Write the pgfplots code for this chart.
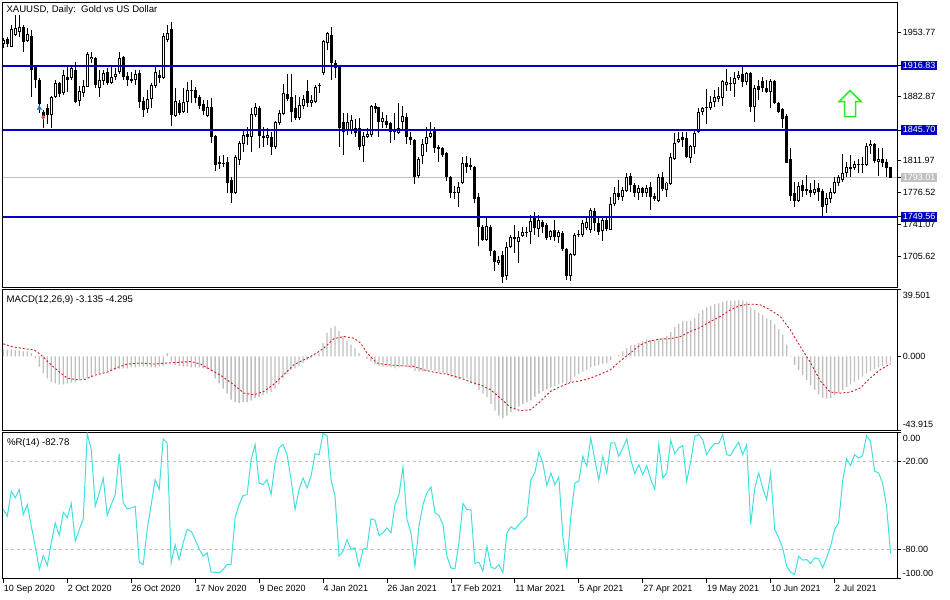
\documentclass[border=0pt]{standalone}
\usepackage{pgfplots}
\pgfplotsset{compat=1.18}
\usepackage{pgfplotstable}
\usepackage{fontspec}
\setmainfont{Liberation Sans}
\definecolor{lvl}{RGB}{0,0,190}
\definecolor{silv}{RGB}{192,192,192}
\definecolor{wpr}{RGB}{64,224,224}
\definecolor{sig}{RGB}{210,30,30}
\definecolor{grn}{RGB}{40,235,40}

\pgfplotstableread{
i o h l c
0 1941.0 1948.0 1936.0 1945.0
1 1946.4 1948.6 1937.5 1940.8
2 1937.5 1961.9 1937.0 1957.4
3 1950.8 1973.0 1949.7 1958.5
4 1954.0 1973.0 1948.6 1959.6
5 1959.6 1961.9 1932.0 1943.0
6 1944.0 1958.5 1943.0 1951.9
7 1949.7 1956.3 1882.2 1912.1
8 1915.4 1917.6 1892.2 1901.0
9 1901.0 1903.2 1864.5 1874.5
10 1865.6 1867.8 1847.9 1861.2
11 1870.0 1874.5 1852.4 1862.3
12 1862.3 1883.3 1847.9 1882.2
13 1882.2 1901.0 1881.1 1897.7
14 1897.7 1898.8 1882.2 1885.5
15 1886.6 1912.1 1884.4 1906.6
16 1904.4 1917.6 1887.8 1901.0
17 1903.3 1917.6 1901.0 1914.3
18 1912.1 1920.9 1875.6 1876.7
19 1877.8 1894.4 1872.3 1888.9
20 1886.6 1901.0 1882.2 1894.4
21 1893.3 1932.0 1893.0 1929.8
22 1923.7 1932.0 1919.8 1926.5
23 1925.4 1926.5 1892.2 1895.5
24 1892.2 1912.1 1882.2 1901.0
25 1900.0 1912.1 1895.5 1908.8
26 1909.9 1914.3 1895.5 1897.7
27 1897.7 1915.4 1897.0 1904.4
28 1904.4 1914.3 1901.0 1907.7
29 1909.9 1932.0 1907.7 1925.4
30 1926.5 1927.6 1901.0 1904.4
31 1905.5 1909.9 1894.4 1901.0
32 1902.1 1909.9 1897.7 1900.0
33 1901.0 1912.1 1895.5 1907.7
34 1908.8 1912.1 1870.1 1876.7
35 1877.8 1882.2 1860.1 1867.8
36 1869.0 1890.0 1864.5 1880.0
37 1880.0 1897.7 1870.1 1895.5
38 1894.4 1915.4 1892.2 1909.9
39 1906.6 1912.0 1898.0 1903.3
40 1903.3 1953.0 1902.0 1949.7
41 1945.3 1961.9 1943.0 1953.0
42 1957.4 1965.2 1850.2 1862.3
43 1861.2 1892.2 1860.1 1877.8
44 1875.6 1878.9 1862.0 1864.5
45 1865.6 1892.2 1864.5 1876.7
46 1876.7 1898.8 1864.5 1890.0
47 1889.5 1901.0 1875.6 1888.6
48 1890.0 1893.3 1875.6 1881.1
49 1882.2 1884.4 1869.0 1872.3
50 1874.5 1878.9 1862.3 1866.7
51 1861.2 1878.9 1860.0 1871.2
52 1871.2 1881.1 1831.0 1838.0
53 1839.0 1840.2 1799.7 1807.0
54 1808.0 1816.3 1803.0 1810.0
55 1809.0 1818.0 1805.0 1807.8
56 1810.0 1816.0 1776.0 1787.0
57 1790.4 1794.0 1764.6 1776.0
58 1776.0 1818.0 1775.0 1815.8
59 1812.5 1833.5 1807.0 1831.3
60 1830.2 1845.7 1821.4 1840.2
61 1841.0 1849.0 1829.0 1838.0
62 1838.0 1869.6 1821.4 1863.4
63 1862.3 1875.6 1860.0 1871.2
64 1870.0 1871.7 1825.4 1839.0
65 1839.0 1849.0 1827.0 1836.9
66 1837.0 1847.6 1829.0 1840.2
67 1838.0 1843.9 1818.0 1826.9
68 1826.9 1856.0 1825.0 1854.6
69 1853.5 1867.8 1851.3 1864.5
70 1863.4 1896.6 1862.3 1886.6
71 1885.5 1907.7 1877.8 1880.0
72 1882.2 1907.7 1854.0 1865.6
73 1870.0 1884.4 1856.8 1859.0
74 1859.0 1882.0 1856.8 1873.4
75 1872.3 1884.4 1869.0 1880.0
76 1888.8 1901.0 1871.0 1876.0
77 1875.6 1884.4 1871.0 1878.9
78 1876.7 1895.5 1875.6 1893.3
79 1894.0 1897.7 1886.6 1895.5
80 1909.0 1945.5 1906.6 1944.5
81 1941.9 1954.5 1934.0 1953.0
82 1950.8 1959.6 1901.0 1919.8
83 1919.8 1923.0 1903.0 1914.3
84 1916.5 1917.6 1827.0 1847.9
85 1854.6 1864.5 1818.0 1843.5
86 1845.0 1864.5 1840.0 1854.6
87 1845.7 1862.0 1841.0 1856.8
88 1848.0 1858.0 1838.0 1842.6
89 1847.6 1858.6 1823.6 1827.3
90 1828.0 1843.9 1810.7 1839.1
91 1838.3 1847.6 1836.5 1841.3
92 1840.2 1873.4 1838.3 1872.3
93 1872.3 1876.0 1864.2 1868.6
94 1870.8 1871.5 1837.6 1854.9
95 1855.0 1866.0 1847.6 1858.6
96 1856.0 1862.3 1847.6 1851.3
97 1853.1 1854.9 1831.7 1843.9
98 1844.5 1864.2 1834.6 1843.5
99 1842.8 1876.0 1841.3 1848.3
100 1854.9 1872.3 1845.0 1861.2
101 1860.5 1864.2 1830.3 1837.6
102 1838.3 1843.9 1829.2 1834.7
103 1834.7 1835.4 1786.0 1793.4
104 1794.8 1816.2 1792.3 1813.3
105 1817.3 1835.4 1808.1 1830.3
106 1830.3 1849.4 1821.8 1838.3
107 1838.3 1854.9 1836.5 1842.8
108 1845.7 1849.4 1819.9 1825.5
109 1826.6 1829.2 1810.7 1824.4
110 1825.5 1827.3 1816.2 1818.1
111 1819.9 1821.8 1789.7 1794.1
112 1794.1 1794.8 1770.1 1776.4
113 1777.5 1783.1 1769.0 1775.7
114 1776.4 1788.6 1760.9 1783.0
115 1786.8 1816.2 1786.0 1808.9
116 1809.6 1817.0 1797.8 1805.2
117 1807.0 1814.4 1801.5 1805.2
118 1805.2 1805.9 1764.6 1769.1
119 1772.0 1776.4 1716.8 1738.8
120 1738.8 1740.7 1722.2 1724.1
121 1724.1 1748.0 1723.3 1739.6
122 1738.8 1740.7 1705.6 1712.2
123 1712.2 1713.0 1689.0 1699.0
124 1698.3 1706.4 1696.4 1701.9
125 1707.5 1711.2 1676.8 1682.8
126 1684.2 1721.2 1679.8 1716.0
127 1716.0 1729.6 1714.7 1727.0
128 1727.0 1740.7 1709.5 1724.8
129 1721.1 1733.3 1698.3 1727.7
130 1728.5 1738.8 1727.0 1732.2
131 1732.2 1738.8 1727.0 1733.2
132 1732.2 1751.7 1719.6 1745.1
133 1750.6 1755.4 1729.6 1737.0
134 1735.9 1751.7 1727.0 1746.2
135 1744.3 1746.2 1731.4 1738.8
136 1740.7 1742.5 1724.1 1725.9
137 1727.0 1735.1 1724.1 1733.3
138 1735.1 1746.2 1722.2 1727.0
139 1727.7 1735.1 1720.3 1732.6
140 1731.4 1733.3 1712.2 1713.8
141 1713.8 1714.9 1679.1 1684.2
142 1684.2 1709.3 1678.0 1708.6
143 1707.5 1731.4 1706.4 1729.6
144 1729.6 1734.4 1727.0 1730.5
145 1729.6 1746.2 1727.0 1743.2
146 1737.0 1748.0 1735.1 1744.3
147 1735.1 1759.1 1731.4 1757.3
148 1756.5 1759.1 1733.3 1742.5
149 1743.2 1748.0 1729.6 1732.2
150 1733.3 1749.9 1723.3 1746.2
151 1746.2 1748.0 1733.3 1735.9
152 1735.1 1771.3 1734.4 1763.9
153 1763.9 1783.0 1761.0 1776.4
154 1776.4 1790.4 1768.3 1771.3
155 1771.3 1783.0 1766.5 1779.4
156 1778.6 1797.8 1777.5 1794.1
157 1794.8 1797.8 1777.5 1784.9
158 1784.9 1786.8 1772.0 1776.4
159 1775.7 1784.9 1768.3 1781.2
160 1781.2 1783.0 1772.0 1776.4
161 1776.4 1784.9 1771.3 1781.2
162 1782.3 1788.6 1757.3 1772.0
163 1772.7 1775.7 1766.5 1769.1
164 1766.5 1797.1 1765.4 1793.4
165 1793.4 1798.6 1778.6 1780.1
166 1779.4 1788.6 1771.3 1787.5
167 1786.0 1819.9 1784.9 1815.5
168 1813.3 1842.0 1812.5 1831.0
169 1832.8 1843.9 1831.0 1835.4
170 1837.6 1843.9 1827.3 1835.0
171 1836.5 1843.9 1814.4 1816.2
172 1814.4 1829.2 1808.9 1828.0
173 1827.3 1845.0 1819.2 1842.8
174 1843.9 1869.7 1842.8 1866.0
175 1866.0 1871.5 1862.3 1869.7
176 1870.4 1890.7 1852.4 1871.0
177 1869.7 1882.9 1868.0 1877.0
178 1877.0 1890.0 1870.8 1881.9
179 1879.7 1893.6 1877.0 1883.3
180 1880.8 1901.0 1872.3 1900.3
181 1895.5 1912.8 1889.2 1899.2
182 1896.6 1904.7 1889.2 1897.4
183 1896.6 1910.3 1882.6 1902.9
184 1902.9 1911.3 1901.0 1906.6
185 1907.7 1916.5 1892.9 1899.2
186 1899.2 1910.3 1895.5 1909.1
187 1909.1 1910.3 1866.0 1870.8
188 1870.8 1895.5 1854.9 1891.8
189 1894.4 1901.0 1878.9 1890.0
190 1900.3 1904.0 1888.1 1891.8
191 1891.8 1901.0 1886.3 1888.1
192 1888.1 1901.7 1869.7 1900.3
193 1900.3 1901.0 1874.5 1876.0
194 1876.0 1877.0 1864.2 1866.0
195 1868.6 1869.7 1847.6 1857.6
196 1861.2 1863.4 1808.9 1809.6
197 1813.3 1825.5 1766.5 1772.7
198 1775.7 1788.6 1760.9 1766.5
199 1767.5 1788.6 1765.4 1783.8
200 1784.9 1790.4 1772.0 1778.6
201 1780.1 1796.0 1773.8 1778.6
202 1779.4 1786.8 1772.0 1775.7
203 1776.4 1790.4 1773.8 1780.1
204 1781.2 1786.8 1766.5 1777.5
205 1778.6 1780.1 1750.6 1760.9
206 1762.8 1775.7 1753.5 1770.2
207 1769.1 1781.2 1764.6 1777.5
208 1776.4 1793.4 1775.0 1788.6
209 1787.5 1796.0 1783.1 1793.4
210 1790.4 1819.2 1788.6 1798.5
211 1797.8 1810.7 1794.1 1804.4
212 1804.4 1818.1 1794.1 1802.3
213 1803.3 1811.8 1800.8 1808.1
214 1808.1 1813.3 1798.5 1806.7
215 1808.1 1815.5 1797.8 1806.7
216 1807.0 1831.0 1805.9 1828.0
217 1828.0 1834.6 1819.2 1830.3
218 1830.3 1831.7 1809.6 1811.8
219 1810.7 1825.5 1794.8 1813.3
220 1813.3 1825.5 1805.2 1809.6
221 1810.7 1813.3 1794.1 1803.3
222 1804.4 1805.2 1792.0 1793.0
}\candles

\pgfplotstableread{
i m
0 4
1 4
2 4
3 4
4 3.5
5 3
6 3
7 2
8 -1
9 -6
10 -10
11 -13
12 -15
13 -16
14 -16.5
15 -16.5
16 -16
17 -15.5
18 -15
19 -14
20 -13.5
21 -12.5
22 -11.5
23 -10.5
24 -10
25 -9.5
26 -9
27 -8.5
28 -8
29 -7.5
30 -7
31 -7
32 -6.5
33 -6.5
34 -6
35 -6
36 -6
37 -6.5
38 -6.5
39 -6
40 -5.5
41 2
42 -3
43 -5
44 -5.5
45 -6
46 -6
47 -6.5
48 -6.5
49 -6.5
50 -7
51 -7.5
52 -9
53 -13
54 -16
55 -19
56 -22
57 -25.5
58 -27
59 -27.5
60 -27
61 -27
62 -26
63 -24.5
64 -24
65 -23
66 -22
67 -21
68 -19
69 -16.5
70 -13
71 -10
72 -8
73 -7
74 -5.5
75 -4
76 -2
77 -1
78 0.5
79 2
80 8
81 14
82 17
83 18
84 15
85 12
86 9
87 7
88 5
89 2
90 0.3
91 -1.5
92 -3
93 -4.5
94 -5.5
95 -6
96 -6
97 -6.5
98 -7
99 -6.5
100 -6
101 -6.5
102 -7
103 -8.5
104 -9
105 -9
106 -8.5
107 -8
108 -8.5
109 -9
110 -9.5
111 -10.5
112 -12
113 -13
114 -13.5
115 -13
116 -13
117 -15
118 -17
119 -20
120 -22
121 -24
122 -28
123 -32
124 -35
125 -36.5
126 -35
127 -33
128 -31.5
129 -29.5
130 -28
131 -27
132 -26
133 -24
134 -22
135 -20.5
136 -19.5
137 -18.5
138 -17.5
139 -16.5
140 -16
141 -16.5
142 -15
143 -12
144 -10.5
145 -9
146 -8
147 -6.5
148 -5.5
149 -5
150 -4.5
151 -4
152 -2
153 0.3
154 1
155 3
156 5
157 6.5
158 7
159 8
160 9
161 10
162 10
163 9.5
164 10.5
165 11
166 12
167 14.5
168 17.5
169 19.5
170 21
171 21
172 21
173 22.5
174 25.5
175 27.5
176 29
177 30
178 31
179 31.5
180 32.5
181 33
182 33
183 33
184 33.5
185 33
186 32.5
187 29
188 27.5
189 26
190 24.5
191 22.5
192 21.5
193 19
194 16
195 13
196 7
197 0.3
198 -5
199 -8
200 -11
201 -14
202 -17
203 -20
204 -22.5
205 -24.5
206 -25
207 -24.5
208 -23
209 -21.5
210 -20
211 -18
212 -16.5
213 -15
214 -13.5
215 -12
216 -10
217 -8.5
218 -7.5
219 -6.5
220 -5.5
221 -4.5
222 -3.135
}\macd

\pgfplotstableread{
x s
0 7.5
1.9 5.9
4.4 4.9
7.7 3.9
9.4 1.0
11.9 -4.9
14.4 -9.9
16 -12.8
18.5 -13.8
20.2 -13.8
22.7 -11.2
26 -9.3
28.5 -6.5
31 -4.5
34.4 -3.9
37.7 -4.5
41 -3.9
44.4 -3.4
46.9 -3.0
49.4 -4.5
51.9 -7.9
54.4 -11.2
57.7 -16.8
60.2 -21.7
62.7 -22.7
65.2 -20.7
67.7 -16.4
70.2 -10.8
72.7 -4.9
75.2 -2.0
77.7 1.0
80.2 4.9
82.7 10.5
85.2 11.8
87.7 10.8
89.4 7.9
91 2.0
93.5 -3.9
96 -4.9
99.4 -5.5
102.7 -5.9
105.2 -7.9
107.7 -9.3
111 -10.5
114.4 -12.8
117 -15.2
119.4 -16.8
121.9 -19.7
124.4 -24.7
126.9 -30.2
129.4 -32.1
131.9 -31.6
134.4 -26.6
136.9 -20.7
139.4 -17.8
141.9 -15.4
144.4 -14.4
146.9 -12.8
149.4 -10.5
151.9 -7.9
154.4 -2.6
156.9 2.0
159.4 6.9
161.9 9.3
164.4 10.3
166.9 10.5
169.4 11.8
171.9 14.8
174.4 17.2
176.9 20.7
179.4 23.7
181.9 27.6
184.4 30.2
186.9 31.0
189.4 30.6
191.9 27.6
194.4 23.7
196.9 15.8
199.4 5.9
201.9 -3.4
204.4 -14.4
206.9 -21.1
209.4 -21.7
211.9 -21.1
214.4 -18.7
216.9 -12.8
219.4 -7.9
222 -4.295
}\signal

\pgfplotstableread{
i r
0 -52.7
1 -57.3
2 -40.2
3 -44.7
4 -39.0
5 -56.2
6 -49.3
7 -64.2
8 -77.9
9 -93.8
10 -84.2
11 -91.1
12 -75.6
13 -61.9
14 -70.5
15 -54.6
16 -58.4
17 -48.6
18 -74.4
19 -66.4
20 -59.1
21 -0.7
22 -11.6
23 -50.5
24 -41.3
25 -31.1
26 -56.8
27 -49.3
28 -42.5
29 -14.4
30 -48.2
31 -52.3
32 -51.6
33 -50.5
34 -88.8
35 -90.4
36 -66.4
37 -49.3
38 -32.2
39 -39.0
40 -4.3
41 -7.1
42 -89.3
43 -76.7
44 -87.0
45 -75.6
46 -66.4
47 -67.6
48 -73.3
49 -79.7
50 -84.7
51 -82.4
52 -95.7
53 -95.7
54 -96.1
55 -93.8
56 -90.4
57 -90.4
58 -58.4
59 -49.3
60 -43.2
61 -42.5
62 -18.5
63 -8.2
64 -34.5
65 -35.6
66 -32.2
67 -42.5
68 -20.8
69 -10.5
70 -8.2
71 -15.1
72 -32.2
73 -52.7
74 -39.0
75 -31.1
76 -37.9
77 -29.9
78 -14.4
79 -15.1
80 -0.7
81 -2.1
82 -32.2
83 -43.6
84 -84.7
85 -81.3
86 -73.3
87 -80.1
88 -79.0
89 -92.0
90 -80.1
91 -79.0
92 -59.1
93 -60.0
94 -70.5
95 -68.7
96 -65.3
97 -68.7
98 -49.3
99 -42.5
100 -23.5
101 -59.6
102 -68.7
103 -91.6
104 -64.2
105 -49.3
106 -41.3
107 -37.2
108 -55.0
109 -56.8
110 -63.0
111 -84.7
112 -92.7
113 -93.4
114 -75.6
115 -48.6
116 -52.7
117 -52.7
118 -89.7
119 -88.8
120 -95.0
121 -77.9
122 -92.0
123 -93.4
124 -90.4
125 -96.1
126 -68.7
127 -64.6
128 -66.4
129 -63.0
130 -60.0
131 -57.3
132 -32.2
133 -27.6
134 -13.5
135 -20.8
136 -36.3
137 -27.6
138 -35.6
139 -30.4
140 -71.0
141 -91.6
142 -57.3
143 -34.5
144 -33.3
145 -16.2
146 -23.1
147 -3.7
148 -18.5
149 -32.6
150 -16.2
151 -27.6
152 -7.1
153 -7.1
154 -16.2
155 -10.5
156 -4.3
157 -18.5
158 -28.1
159 -21.9
160 -28.8
161 -22.6
162 -32.2
163 -39.0
164 -8.2
165 -31.1
166 -27.6
167 -5.3
168 -14.4
169 -10.5
170 -8.9
171 -33.3
172 -19.6
173 -2.5
174 -1.4
175 -4.8
176 -15.1
177 -10.5
178 -7.5
179 -7.5
180 -1.4
181 -15.1
182 -15.8
183 -10.5
184 -6.6
185 -15.1
186 -8.2
187 -63.0
188 -38.6
189 -27.6
190 -37.9
191 -45.9
192 -27.6
193 -66.4
194 -72.1
195 -79.0
196 -91.6
197 -95.7
198 -97.3
199 -84.7
200 -87.4
201 -87.0
202 -89.7
203 -85.8
204 -86.5
205 -92.7
206 -85.8
207 -77.9
208 -66.4
209 -61.9
210 -33.3
211 -18.0
212 -22.6
213 -15.1
214 -17.4
215 -15.8
216 -2.1
217 -5.9
218 -26.5
219 -27.6
220 -34.5
221 -50.5
222 -82.78
}\wpr

\begin{document}
\begin{tikzpicture}[font=\fontsize{9bp}{10bp}\selectfont]
\path[fill=white] (0bp,0bp) rectangle (950bp,-600bp);
\pgfplotsset{panel/.style={scale only axis, width=895bp, xmin=-0.125, xmax=223.625,
  anchor=north west, axis line style={line width=0.8bp, black},
  tick style={line width=0.8bp, black}, tick align=outside, major tick length=4bp,
  ytick pos=right, yticklabels={}, xticklabels={}}}
% ---------- price panel ----------
\begin{axis}[panel, at={(2bp,-2bp)}, height=286bp, ymin=1671.0, ymax=1987.3, xtick=\empty,
  ytick={1953.77,1916.83,1882.87,1845.70,1811.97,1793.01,1776.52,1749.56,1741.07,1705.62}]
\addplot[silv, line width=1bp] coordinates {(-1,1793.01) (230,1793.01)};
\addplot[black, line width=1bp, quiver={u=0, v=\thisrow{h}-\thisrow{l}}] table[x=i, y=l] {\candles};
\addplot[black, line width=3bp, quiver={u=0, v=\thisrow{c}-\thisrow{o}}] table[x=i, y=o] {\candles};
\addplot[white, line width=1bp, quiver={u=0, v=\thisrow{c}-\thisrow{o}-2.2},
  restrict expr to domain={\thisrow{c}-\thisrow{o}}{2.3:1000}] table[x=i, y expr=\thisrow{o}+1.1] {\candles};
\addplot[lvl, line width=2bp] coordinates {(-1,1916.83) (230,1916.83)};
\addplot[lvl, line width=2bp] coordinates {(-1,1845.70) (230,1845.70)};
\addplot[lvl, line width=2bp] coordinates {(-1,1749.56) (230,1749.56)};
\addplot[only marks, mark=triangle*, mark size=2.6bp, color={rgb,255:red,30;green,120;blue,200}] coordinates {(9,1869.7)};
\addplot[only marks, mark=diamond*, mark size=2.2bp, color={rgb,255:red,220;green,80;blue,60}] coordinates {(10,1859.8)};
\end{axis}
% ---------- MACD panel ----------
\begin{axis}[panel, at={(2bp,-290bp)}, height=141bp, ymin=-43.915, ymax=39.501, xtick=\empty,
  ytick={39.501,0,-43.915}]
\addplot[ybar, bar width=1.3bp, fill=silv, draw=none] table[x=i, y=m] {\macd};
\addplot[sig, line width=0.9bp, dash pattern=on 2bp off 2bp] table[x=x, y=s] {\signal};
\end{axis}
% ---------- %R panel ----------
\begin{axis}[panel, at={(2bp,-433bp)}, height=146bp, ymin=-100, ymax=0,
  xtick={0,16,...,208}, xtick pos=left, ytick={0,-20,-80,-100}]
\addplot[silv, line width=0.8bp, dash pattern=on 3bp off 3bp] coordinates {(-1,-20) (230,-20)};
\addplot[silv, line width=0.8bp, dash pattern=on 3bp off 3bp] coordinates {(-1,-80) (230,-80)};
\addplot[wpr, line width=1bp] table[x=i, y=r] {\wpr};
\end{axis}
% ---------- titles ----------
\begin{scope}[font=\fontsize{9.6bp}{11bp}\selectfont]
\node[anchor=base west, inner sep=0pt] at (5.5bp,-12.7bp) {XAUUSD, Daily:\ \ Gold vs US Dollar};
\node[anchor=base west, inner sep=0pt] at (5.7bp,-302.7bp) {MACD(12,26,9) -3.135 -4.295};
\node[anchor=base west, inner sep=0pt] at (6bp,-446bp) {\%R(14) -82.78};
\end{scope}
% ---------- right scale labels ----------
\foreach \v/\y in {1953.77/32.3, 1882.87/96.4, 1811.97/160.5, 1776.52/192.6, 1741.07/224.7, 1705.62/256.7,
  39.501/295.8, 0.000/356.7, -43.915/425, 0.00/438.3, -20.00/462.3, -80.00/550.3, -100.00/573.7}
  \node[anchor=west, inner sep=0pt] at (902.5bp,-\y*1bp) {\v};
\foreach \v/\y in {1916.83/65.7, 1845.70/130.0, 1749.56/217.0}
  \node[anchor=west, fill=lvl, text=white, inner xsep=2bp, inner ysep=1.6bp] at (900.5bp,-\y*1bp) {\v};
\node[anchor=west, fill=silv, text=white, inner xsep=2bp, inner ysep=1.6bp] at (900.5bp,-177.7bp) {1793.01};
% ---------- date labels ----------
\foreach \n/\lab in {0/10 Sep 2020, 16/2 Oct 2020, 32/26 Oct 2020, 48/17 Nov 2020, 64/9 Dec 2020,
  80/4 Jan 2021, 96/26 Jan 2021, 112/17 Feb 2021, 128/11 Mar 2021, 144/5 Apr 2021,
  160/27 Apr 2021, 176/19 May 2021, 192/10 Jun 2021, 208/2 Jul 2021}
  \node[anchor=base west, inner sep=0pt] at ({2.8bp+4bp*\n}, -592bp) {\lab};
% ---------- green arrow ----------
\draw[grn, line width=1.6bp, fill=white, line join=miter] (850bp,-90.7bp) -- (861bp,-101.7bp) -- (855.5bp,-101.7bp)
  -- (855.5bp,-116.7bp) -- (844.5bp,-116.7bp) -- (844.5bp,-101.7bp) -- (839bp,-101.7bp) -- cycle;
\end{tikzpicture}
\end{document}
